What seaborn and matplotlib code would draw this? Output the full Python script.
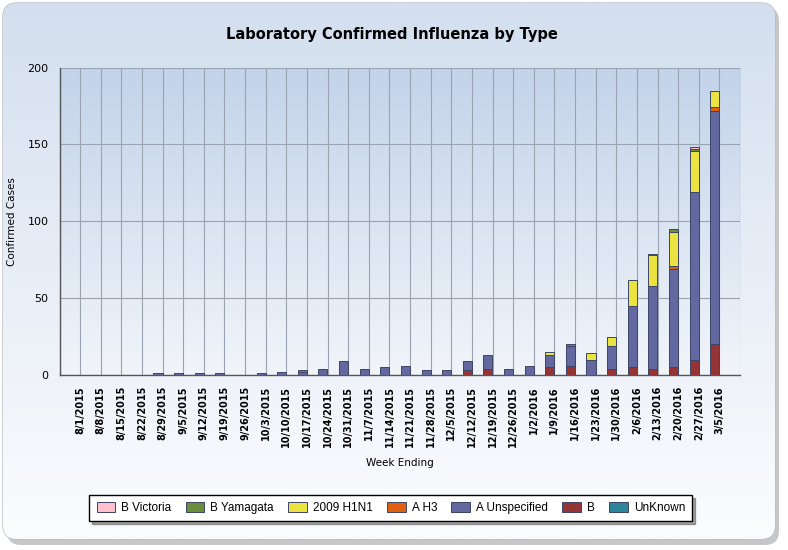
import numpy as np
import pandas as pd
import matplotlib.pyplot as plt
import seaborn as sns
from matplotlib.patches import FancyBboxPatch
from matplotlib.colors import LinearSegmentedColormap

# ── Data ──────────────────────────────────────────────────────────────────────
weeks = ['8/1/2015', '8/8/2015', '8/15/2015', '8/22/2015', '8/29/2015',
         '9/5/2015', '9/12/2015', '9/19/2015', '9/26/2015', '10/3/2015',
         '10/10/2015', '10/17/2015', '10/24/2015', '10/31/2015', '11/7/2015',
         '11/14/2015', '11/21/2015', '11/28/2015', '12/5/2015', '12/12/2015',
         '12/19/2015', '12/26/2015', '1/2/2016', '1/9/2016', '1/16/2016',
         '1/23/2016', '1/30/2016', '2/6/2016', '2/13/2016', '2/20/2016',
         '2/27/2016', '3/5/2016']

types = ['B Victoria', 'B Yamagata', '2009 H1N1', 'A H3', 'A Unspecified', 'B', 'UnKnown']
colors = ['#ffc0cb', '#6b8e3a', '#ebe33f', '#e0600f', '#6468a0', '#943434', '#2e8499']

b_victoria    = [0, 0, 0, 0, 0, 0, 0, 0, 0, 0, 0, 0, 0, 0, 0, 0,
                 0, 0, 0, 0, 0, 0, 0, 0, 0, 0, 0, 0, 1, 0, 1, 0]
b_yamagata    = [0, 0, 0, 0, 0, 0, 0, 0, 0, 0, 0, 0, 0, 0, 0, 0,
                 0, 0, 0, 0, 0, 0, 0, 0, 1, 0, 0, 0, 0, 2, 1, 0]
h1n1_2009     = [0, 0, 0, 0, 0, 0, 0, 0, 0, 0, 0, 0, 0, 0, 0, 0,
                 0, 0, 0, 0, 0, 0, 0, 2, 0, 4, 6, 17, 20, 22, 27, 11]
a_h3          = [0, 0, 0, 0, 0, 0, 0, 0, 0, 0, 0, 1, 0, 0, 0, 0,
                 0, 0, 0, 0, 0, 0, 0, 0, 0, 0, 0, 0, 0, 2, 0, 2]
a_unspecified = [0, 0, 0, 0, 1, 1, 1, 1, 0, 1, 2, 2, 4, 9, 4, 5,
                 6, 3, 3, 6, 9, 4, 6, 8, 13, 10, 15, 40, 54, 64, 109, 152]
b_lineage     = [0, 0, 0, 0, 0, 0, 0, 0, 0, 0, 0, 0, 0, 0, 0, 0,
                 0, 0, 0, 3, 4, 0, 0, 5, 6, 0, 4, 5, 4, 5, 10, 20]
unknown       = [0] * 32

series = [b_victoria, b_yamagata, h1n1_2009, a_h3, a_unspecified, b_lineage, unknown]

rows = []
for name, vals in zip(types, series):
    for i, v in enumerate(vals):
        rows.append({'pos': i - 0.225, 'type': name, 'count': v})
df = pd.DataFrame(rows)

# ── Figure / background panel ─────────────────────────────────────────────────
sns.set_style('white')
plt.rcParams['font.family'] = ['DejaVu Sans']
plt.rcParams['text.color'] = 'black'
plt.rcParams['axes.labelcolor'] = 'black'
plt.rcParams['xtick.color'] = 'black'
plt.rcParams['ytick.color'] = 'black'

W, H = 788, 550
fig = plt.figure(figsize=(W / 100, H / 100), dpi=100)
fig.patch.set_facecolor('white')

bg = fig.add_axes([0, 0, 1, 1], zorder=-5)
bg.set_xlim(0, W)
bg.set_ylim(H, 0)
bg.axis('off')

shadow = FancyBboxPatch((7, 7), 772, 538, boxstyle='round,pad=0,rounding_size=14',
                        fc='#9a9a9a', ec='none', alpha=0.55)
bg.add_patch(shadow)
panel = FancyBboxPatch((3, 3), 772, 536, boxstyle='round,pad=0,rounding_size=14',
                       fc='white', ec='#b8bcc4', lw=1.0)
bg.add_patch(panel)
panel_cmap = LinearSegmentedColormap.from_list('panel', ['#d3dfef', '#e8eef7', '#fbfcfe'])
grad = bg.imshow(np.linspace(0, 1, 256).reshape(-1, 1), cmap=panel_cmap, aspect='auto',
                 extent=[3, 775, 539, 3], zorder=1)
grad.set_clip_path(panel)

# ── Main axes ─────────────────────────────────────────────────────────────────
ax = fig.add_axes([59.5 / W, 1 - 375 / H, (740 - 59.5) / W, (375 - 67.5) / H])
ax.set_facecolor('none')
ax.set_xlim(-1, 32)
ax.set_ylim(0, 200)

area_cmap = LinearSegmentedColormap.from_list('area', ['#c2d3ea', '#dae4f2', '#f1f5fa'])
ax.imshow(np.linspace(0, 1, 256).reshape(-1, 1), cmap=area_cmap, aspect='auto',
          extent=[-1, 32, 0, 200], zorder=0)

sns.histplot(data=df, x='pos', hue='type', weights='count', hue_order=types,
             palette=colors, multiple='stack', discrete=True, shrink=0.44,
             alpha=1, edgecolor='#3c4466', linewidth=0.7, ax=ax, zorder=3)

for p in ax.patches:
    if p.get_height() == 0:
        p.set_visible(False)

ax.set_xlim(-1, 32)
ax.set_ylim(0, 200)
ax.set_xticks(range(-1, 33))
ax.set_xticklabels([''] + weeks + [''], rotation=90, fontsize=7, fontweight='bold')
ax.set_yticks([0, 50, 100, 150, 200])
ax.set_yticklabels(['0', '50', '100', '150', '200'], fontsize=8)
ax.tick_params(axis='both', direction='out', length=5, width=1, color='black', pad=3)

ax.grid(True, color='#9aa3b0', linewidth=0.8, zorder=1)
ax.set_axisbelow(True)
for s in ['top', 'right']:
    ax.spines[s].set_visible(False)
for s in ['left', 'bottom']:
    ax.spines[s].set_color('#555555')
    ax.spines[s].set_linewidth(1)

ax.set_xlabel('Week Ending', fontsize=7.5)
ax.set_ylabel('Confirmed Cases', fontsize=7.5)
ax.xaxis.set_label_coords(0.5, -0.27)
ax.yaxis.set_label_coords(-0.063, 0.5)

fig.text(0.497, 1 - 34 / H, 'Laboratory Confirmed Influenza by Type',
         ha='center', va='center', fontsize=10.5, fontweight='bold', color='black')

# ── Legend ────────────────────────────────────────────────────────────────────
sns.move_legend(ax, 'center', bbox_to_anchor=(0.496, 1 - 508 / H),
                bbox_transform=fig.transFigure, ncol=7, title=None, frameon=True,
                fancybox=False, shadow=True, edgecolor='black', framealpha=1,
                prop={'family': ['Liberation Sans Narrow', 'Liberation Sans'], 'size': 8.5},
                handlelength=1.6, handleheight=0.9, handletextpad=0.5,
                columnspacing=1.2, borderpad=0.6)
leg = ax.get_legend()
leg.get_frame().set_linewidth(1.0)

fig.savefig('out.png', dpi=100)
